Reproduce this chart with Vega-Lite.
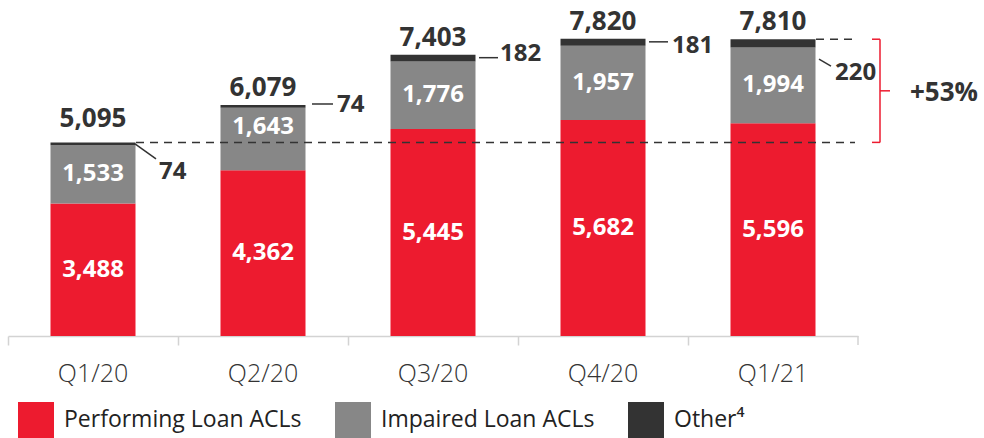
{
  "$schema": "https://vega.github.io/schema/vega-lite/v6.json",
  "width": 850,
  "height": 336,
  "autosize": {"type": "none"},
  "padding": {"left": 8, "top": 0, "right": 126, "bottom": 102},
  "background": "white",
  "config": {"view": {"stroke": null}, "text": {"font": "Open Sans"}},
  "datasets": {
    "segments": [
      {"q": "Q1/20", "cat": "Performing Loan ACLs", "idx": 1, "v": 3488},
      {"q": "Q1/20", "cat": "Impaired Loan ACLs", "idx": 2, "v": 1533},
      {"q": "Q1/20", "cat": "Other⁴", "idx": 3, "v": 74},
      {"q": "Q2/20", "cat": "Performing Loan ACLs", "idx": 1, "v": 4362},
      {"q": "Q2/20", "cat": "Impaired Loan ACLs", "idx": 2, "v": 1643},
      {"q": "Q2/20", "cat": "Other⁴", "idx": 3, "v": 74},
      {"q": "Q3/20", "cat": "Performing Loan ACLs", "idx": 1, "v": 5445},
      {"q": "Q3/20", "cat": "Impaired Loan ACLs", "idx": 2, "v": 1776},
      {"q": "Q3/20", "cat": "Other⁴", "idx": 3, "v": 182},
      {"q": "Q4/20", "cat": "Performing Loan ACLs", "idx": 1, "v": 5682},
      {"q": "Q4/20", "cat": "Impaired Loan ACLs", "idx": 2, "v": 1957},
      {"q": "Q4/20", "cat": "Other⁴", "idx": 3, "v": 181},
      {"q": "Q1/21", "cat": "Performing Loan ACLs", "idx": 1, "v": 5596},
      {"q": "Q1/21", "cat": "Impaired Loan ACLs", "idx": 2, "v": 1994},
      {"q": "Q1/21", "cat": "Other⁴", "idx": 3, "v": 220}
    ],
    "totals": [
      {"q": "Q1/20", "total": 5095, "other": 74},
      {"q": "Q2/20", "total": 6079, "other": 74},
      {"q": "Q3/20", "total": 7403, "other": 182},
      {"q": "Q4/20", "total": 7820, "other": 181},
      {"q": "Q1/21", "total": 7810, "other": 220}
    ],
    "change": [
      {"q": "Q1/21", "from": 5095, "to": 7810, "mid": 6452, "label": "+53%"}
    ]
  },
  "encoding": {
    "x": {
      "field": "q", "type": "nominal",
      "sort": ["Q1/20", "Q2/20", "Q3/20", "Q4/20", "Q1/21"],
      "scale": {"paddingInner": 0, "paddingOuter": 0},
      "axis": {
        "title": null, "labelAngle": 0, "bandPosition": 0, "labelOffset": 0,
        "domainColor": "#d3d3d3", "domainWidth": 1.5,
        "tickColor": "#d3d3d3", "tickWidth": 1.5, "tickSize": 9,
        "labelFont": "Open Sans", "labelFontSize": 25, "labelFontWeight": 300,
        "labelColor": "#333333", "labelPadding": 16
      }
    }
  },
  "layer": [
    {
      "data": {"name": "segments"},
      "transform": [
        {"stack": "v", "groupby": ["q"], "sort": [{"field": "idx"}], "as": ["y0", "y1"]}
      ],
      "mark": {"type": "bar", "width": {"band": 0.5}},
      "encoding": {
        "y": {"field": "y0", "type": "quantitative", "axis": null, "scale": {"domain": [0, 8842], "nice": false}},
        "y2": {"field": "y1"},
        "color": {
          "field": "cat", "type": "nominal",
          "scale": {
            "domain": ["Performing Loan ACLs", "Impaired Loan ACLs", "Other⁴"],
            "range": ["#ED1B2F", "#878787", "#333333"]
          },
          "legend": {
            "title": null, "orient": "none", "direction": "horizontal",
            "legendX": 10, "legendY": 402,
            "symbolType": "square", "symbolSize": 1296, "symbolStrokeWidth": 0,
            "labelFont": "Open Sans", "labelFontSize": 23, "labelColor": "#222222",
            "labelOffset": 10, "columnPadding": 33, "labelLimit": 400
          }
        }
      }
    },
    {
      "data": {"name": "segments"},
      "transform": [
        {"stack": "v", "groupby": ["q"], "sort": [{"field": "idx"}], "as": ["y0", "y1"]},
        {"filter": "datum.idx < 3 && !(datum.q === 'Q2/20' && datum.idx === 2)"},
        {"calculate": "(datum.y0 + datum.y1) / 2", "as": "mid"}
      ],
      "mark": {"type": "text", "color": "white", "fontSize": 24, "fontWeight": "bold", "baseline": "middle"},
      "encoding": {
        "y": {"field": "mid", "type": "quantitative", "axis": null},
        "text": {"field": "v", "type": "quantitative", "format": ","}
      }
    },
    {
      "data": {"name": "segments"},
      "transform": [
        {"stack": "v", "groupby": ["q"], "sort": [{"field": "idx"}], "as": ["y0", "y1"]},
        {"filter": "datum.q === 'Q2/20' && datum.idx === 2"},
        {"calculate": "(datum.y0 + datum.y1) / 2", "as": "mid"}
      ],
      "mark": {"type": "text", "color": "white", "fontSize": 24, "fontWeight": "bold", "baseline": "middle", "dy": -12},
      "encoding": {
        "y": {"field": "mid", "type": "quantitative", "axis": null},
        "text": {"field": "v", "type": "quantitative", "format": ","}
      }
    },
    {
      "data": {"name": "totals"},
      "transform": [{"filter": "datum.q !== 'Q1/20'"}],
      "mark": {"type": "text", "color": "#333333", "fontSize": 26, "fontWeight": "bold", "baseline": "alphabetic", "dy": -9},
      "encoding": {
        "y": {"field": "total", "type": "quantitative", "axis": null},
        "text": {"field": "total", "type": "quantitative", "format": ","}
      }
    },
    {
      "data": {"name": "totals"},
      "transform": [{"filter": "datum.q === 'Q1/20'"}],
      "mark": {"type": "text", "color": "#333333", "fontSize": 26, "fontWeight": "bold", "baseline": "alphabetic", "dy": -15},
      "encoding": {
        "y": {"field": "total", "type": "quantitative", "axis": null},
        "text": {"field": "total", "type": "quantitative", "format": ","}
      }
    },
    {
      "data": {"name": "totals"},
      "transform": [{"filter": "datum.q === 'Q1/20'"}],
      "mark": {"type": "rule", "color": "#333333", "strokeWidth": 1.5, "xOffset": 42, "x2Offset": 63, "yOffset": 1.5, "y2Offset": 16.5},
      "encoding": {
        "x2": {"field": "q"},
        "y": {"field": "total", "type": "quantitative", "axis": null},
        "y2": {"field": "total"}
      }
    },
    {
      "data": {"name": "totals"},
      "transform": [{"filter": "datum.q === 'Q1/20'"}],
      "mark": {"type": "text", "color": "#333333", "fontSize": 24, "fontWeight": "bold", "align": "left", "baseline": "middle", "dx": 66, "dy": 30},
      "encoding": {
        "y": {"field": "total", "type": "quantitative", "axis": null},
        "text": {"field": "other", "type": "quantitative"}
      }
    },
    {
      "data": {"name": "totals"},
      "transform": [{"filter": "datum.q === 'Q2/20'"}],
      "mark": {"type": "rule", "color": "#333333", "strokeWidth": 1.5, "xOffset": 49, "x2Offset": 70, "yOffset": -1, "y2Offset": -1},
      "encoding": {
        "x2": {"field": "q"},
        "y": {"field": "total", "type": "quantitative", "axis": null},
        "y2": {"field": "total"}
      }
    },
    {
      "data": {"name": "totals"},
      "transform": [{"filter": "datum.q === 'Q2/20'"}],
      "mark": {"type": "text", "color": "#333333", "fontSize": 24, "fontWeight": "bold", "align": "left", "baseline": "middle", "dx": 74, "dy": 0},
      "encoding": {
        "y": {"field": "total", "type": "quantitative", "axis": null},
        "text": {"field": "other", "type": "quantitative"}
      }
    },
    {
      "data": {"name": "totals"},
      "transform": [{"filter": "datum.q === 'Q3/20'"}],
      "mark": {"type": "rule", "color": "#333333", "strokeWidth": 1.5, "xOffset": 46, "x2Offset": 65, "yOffset": 3, "y2Offset": 3},
      "encoding": {
        "x2": {"field": "q"},
        "y": {"field": "total", "type": "quantitative", "axis": null},
        "y2": {"field": "total"}
      }
    },
    {
      "data": {"name": "totals"},
      "transform": [{"filter": "datum.q === 'Q3/20'"}],
      "mark": {"type": "text", "color": "#333333", "fontSize": 24, "fontWeight": "bold", "align": "left", "baseline": "middle", "dx": 67, "dy": -1},
      "encoding": {
        "y": {"field": "total", "type": "quantitative", "axis": null},
        "text": {"field": "other", "type": "quantitative"}
      }
    },
    {
      "data": {"name": "totals"},
      "transform": [{"filter": "datum.q === 'Q4/20'"}],
      "mark": {"type": "rule", "color": "#333333", "strokeWidth": 1.5, "xOffset": 46, "x2Offset": 65, "yOffset": 3, "y2Offset": 3},
      "encoding": {
        "x2": {"field": "q"},
        "y": {"field": "total", "type": "quantitative", "axis": null},
        "y2": {"field": "total"}
      }
    },
    {
      "data": {"name": "totals"},
      "transform": [{"filter": "datum.q === 'Q4/20'"}],
      "mark": {"type": "text", "color": "#333333", "fontSize": 24, "fontWeight": "bold", "align": "left", "baseline": "middle", "dx": 69, "dy": 7},
      "encoding": {
        "y": {"field": "total", "type": "quantitative", "axis": null},
        "text": {"field": "other", "type": "quantitative"}
      }
    },
    {
      "data": {"name": "totals"},
      "transform": [{"filter": "datum.q === 'Q1/21'"}],
      "mark": {"type": "rule", "color": "#333333", "strokeWidth": 1.5, "xOffset": 46, "x2Offset": 58, "yOffset": 20, "y2Offset": 27},
      "encoding": {
        "x2": {"field": "q"},
        "y": {"field": "total", "type": "quantitative", "axis": null},
        "y2": {"field": "total"}
      }
    },
    {
      "data": {"name": "totals"},
      "transform": [{"filter": "datum.q === 'Q1/21'"}],
      "mark": {"type": "text", "color": "#333333", "fontSize": 24, "fontWeight": "bold", "align": "left", "baseline": "middle", "dx": 62, "dy": 34},
      "encoding": {
        "y": {"field": "total", "type": "quantitative", "axis": null},
        "text": {"field": "other", "type": "quantitative"}
      }
    },
    {
      "data": {"name": "totals"},
      "transform": [{"filter": "datum.q === 'Q1/20'"}],
      "mark": {"type": "rule", "color": "#333333", "strokeWidth": 1.5, "strokeDash": [8, 6], "xOffset": 43, "x2Offset": 762},
      "encoding": {
        "x2": {"field": "q"},
        "y": {"field": "total", "type": "quantitative", "axis": null}
      }
    },
    {
      "data": {"name": "totals"},
      "transform": [{"filter": "datum.q === 'Q1/21'"}],
      "mark": {"type": "rule", "color": "#333333", "strokeWidth": 1.5, "strokeDash": [8, 6], "xOffset": 43, "x2Offset": 82},
      "encoding": {
        "x2": {"field": "q"},
        "y": {"field": "total", "type": "quantitative", "axis": null}
      }
    },
    {
      "data": {"name": "change"},
      "mark": {"type": "rule", "color": "#ED1B2F", "strokeWidth": 1.5, "xOffset": 107, "x2Offset": 107},
      "encoding": {
        "x2": {"field": "q"},
        "y": {"field": "from", "type": "quantitative", "axis": null},
        "y2": {"field": "to"}
      }
    },
    {
      "data": {"name": "change"},
      "mark": {"type": "rule", "color": "#ED1B2F", "strokeWidth": 1.5, "xOffset": 99, "x2Offset": 107},
      "encoding": {
        "x2": {"field": "q"},
        "y": {"field": "from", "type": "quantitative", "axis": null}
      }
    },
    {
      "data": {"name": "change"},
      "mark": {"type": "rule", "color": "#ED1B2F", "strokeWidth": 1.5, "xOffset": 99, "x2Offset": 107},
      "encoding": {
        "x2": {"field": "q"},
        "y": {"field": "to", "type": "quantitative", "axis": null}
      }
    },
    {
      "data": {"name": "change"},
      "mark": {"type": "rule", "color": "#ED1B2F", "strokeWidth": 1.5, "xOffset": 107, "x2Offset": 117},
      "encoding": {
        "x2": {"field": "q"},
        "y": {"field": "mid", "type": "quantitative", "axis": null}
      }
    },
    {
      "data": {"name": "change"},
      "mark": {"type": "text", "color": "#333333", "fontSize": 26, "fontWeight": "bold", "align": "left", "baseline": "middle", "dx": 137, "dy": 2},
      "encoding": {
        "y": {"field": "mid", "type": "quantitative", "axis": null},
        "text": {"field": "label"}
      }
    },
    {
      "data": {"name": "change"},
      "mark": {"type": "rule", "color": "#d3d3d3", "strokeWidth": 1.5, "xOffset": 85, "x2Offset": 85, "y2Offset": 9},
      "encoding": {
        "x2": {"field": "q"},
        "y": {"datum": 0, "type": "quantitative", "axis": null},
        "y2": {"datum": 0}
      }
    }
  ]
}
